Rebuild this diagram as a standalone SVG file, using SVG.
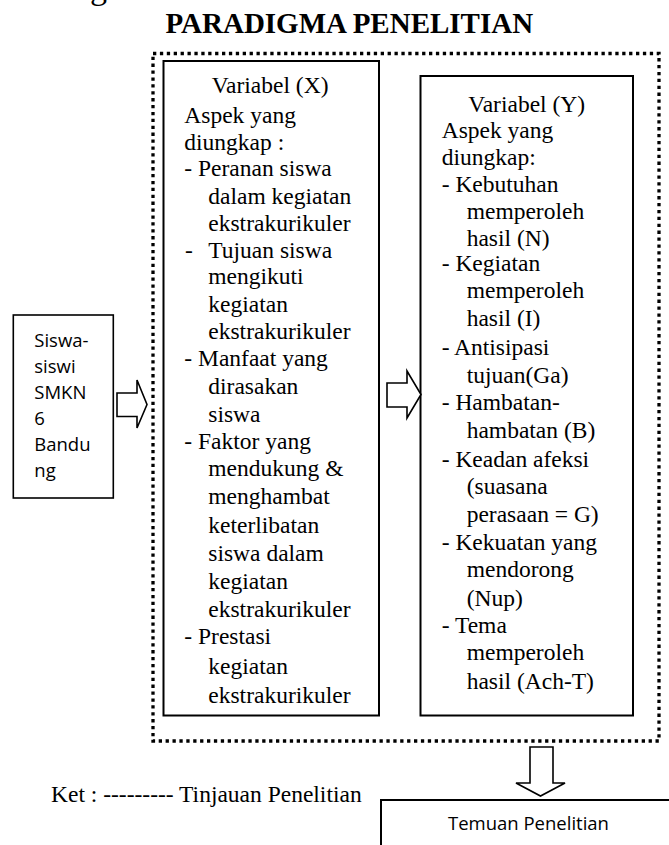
<svg xmlns="http://www.w3.org/2000/svg" width="669" height="845" viewBox="0 0 669 845">
<style>
.s{font-family:"Liberation Serif","Times New Roman",serif;font-size:23.5px;fill:#000}
.t{font-family:"Liberation Serif","Times New Roman",serif;font-size:29px;font-weight:bold;fill:#000}
.c{font-family:"Open Sans","Noto Sans",sans-serif;font-size:18.5px;fill:#000}
.box{fill:#fff;stroke:#000;stroke-width:2}
.thin{fill:#fff;stroke:#000;stroke-width:1.6}
.arrow{fill:#fff;stroke:#000;stroke-width:1.6;stroke-linejoin:miter}
</style>
<rect width="669" height="845" fill="#fff"/>
<text class="t" x="90" y="-1" style="font-weight:normal;font-size:34px">g</text>
<g id="title"><text class="t" x="165.5" y="33.3">PARADIGMA PENELITIAN</text></g>
<g id="frame"><rect x="153" y="53.5" width="506" height="687.5" fill="none" stroke="#000" stroke-width="3.3" stroke-dasharray="3.3 3.6"/></g>
<g id="siswa">
<rect class="thin" x="13.3" y="315" width="100" height="183"/>
<text class="c" x="34.3"><tspan x="34.3" y="346.5">Siswa-</tspan><tspan x="34.3" y="372.5">siswi</tspan><tspan x="34.3" y="398.5">SMKN</tspan><tspan x="34.3" y="424.5">6</tspan><tspan x="34.3" y="450.5">Bandu</tspan><tspan x="34.3" y="476.5">ng</tspan></text>
</g>
<g id="varX">
<rect class="box" x="163.5" y="61" width="215.5" height="654.5"/>
<text class="s">
<tspan x="211.7" y="93">Variabel (X)</tspan>
<tspan x="184.3" y="122.5">Aspek yang</tspan>
<tspan x="184.3" y="149.5">diungkap :</tspan>
<tspan x="184.3" y="176">- Peranan siswa</tspan>
<tspan x="208.3" y="203.5">dalam kegiatan</tspan>
<tspan x="208.3" y="230.5">ekstrakurikuler</tspan>
<tspan x="185" y="257.5">-</tspan><tspan x="208.3" y="257.5">Tujuan siswa</tspan>
<tspan x="208.3" y="284">mengikuti</tspan>
<tspan x="208.3" y="311.5">kegiatan</tspan>
<tspan x="208.3" y="339">ekstrakurikuler</tspan>
<tspan x="184.3" y="366">- Manfaat yang</tspan>
<tspan x="208.3" y="394">dirasakan</tspan>
<tspan x="208.3" y="421.5">siswa</tspan>
<tspan x="184.3" y="449">- Faktor yang</tspan>
<tspan x="208.3" y="476">mendukung &amp;</tspan>
<tspan x="208.3" y="504">menghambat</tspan>
<tspan x="208.3" y="533">keterlibatan</tspan>
<tspan x="208.3" y="561">siswa dalam</tspan>
<tspan x="208.3" y="589">kegiatan</tspan>
<tspan x="208.3" y="617">ekstrakurikuler</tspan>
<tspan x="184.3" y="644">- Prestasi</tspan>
<tspan x="208.3" y="673.5">kegiatan</tspan>
<tspan x="208.3" y="703">ekstrakurikuler</tspan>
</text>
</g>
<g id="varY">
<rect class="box" x="420.5" y="76" width="212.5" height="639.5"/>
<text class="s">
<tspan x="468.3" y="111.7">Variabel (Y)</tspan>
<tspan x="441.7" y="138.3">Aspek yang</tspan>
<tspan x="441.7" y="165">diungkap:</tspan>
<tspan x="441.7" y="191.7">- Kebutuhan</tspan>
<tspan x="466.7" y="219">memperoleh</tspan>
<tspan x="466.7" y="245.5">hasil (N)</tspan>
<tspan x="441.7" y="271">- Kegiatan</tspan>
<tspan x="466.7" y="298.3">memperoleh</tspan>
<tspan x="466.7" y="325.5">hasil (I)</tspan>
<tspan x="441.7" y="354.5">- Antisipasi</tspan>
<tspan x="466.7" y="383">tujuan(Ga)</tspan>
<tspan x="441.7" y="410">- Hambatan-</tspan>
<tspan x="466.7" y="438">hambatan (B)</tspan>
<tspan x="441.7" y="466.5">- Keadan afeksi</tspan>
<tspan x="466.7" y="493.5">(suasana</tspan>
<tspan x="466.7" y="522">perasaan = G)</tspan>
<tspan x="441.7" y="550">- Kekuatan yang</tspan>
<tspan x="466.7" y="577">mendorong</tspan>
<tspan x="466.7" y="605.5">(Nup)</tspan>
<tspan x="441.7" y="633">- Tema</tspan>
<tspan x="466.7" y="660">memperoleh</tspan>
<tspan x="466.7" y="688.5">hasil (Ach-T)</tspan>
</text>
</g>
<g id="temuan">
<rect class="box" x="381" y="800" width="320" height="100"/>
<text class="c" x="448" y="830">Temuan Penelitian</text>
</g>
<g id="ket"><text class="s" x="51" y="801.7">Ket : --------- Tinjauan Penelitian</text></g>
<g id="connectors">
<polygon class="arrow" points="117,393 137,393 137,380 147,404.5 137,428 137,416.5 117,416.5"/>
<polygon class="arrow" points="387,383 407,383 407,371 421,394.5 407,418 407,407 387,407"/>
<polygon class="arrow" points="530,747 553,747 553,783 565,783 540.5,796 516,783 530,783"/>
</g>
</svg>
